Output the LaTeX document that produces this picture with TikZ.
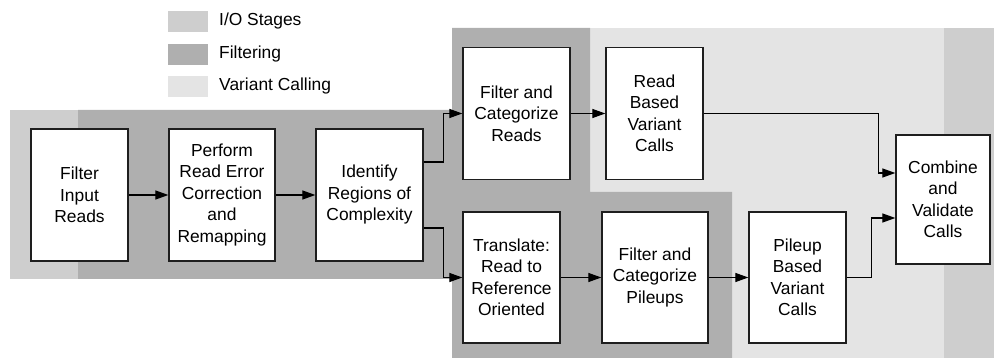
\documentclass[tikz,border=0pt]{standalone}
\usepackage{fontspec}
\setmainfont{Liberation Sans}
\usetikzlibrary{arrows.meta}
\definecolor{iogray}{RGB}{206,206,206}
\definecolor{filtgray}{RGB}{175,175,175}
\definecolor{vargray}{RGB}{228,228,228}
\definecolor{edge}{RGB}{30,30,30}
\begin{document}
\begin{tikzpicture}[x=1pt,y=-1pt,
  stage/.style={draw=edge,fill=white,line width=1.3pt,align=center,inner sep=0pt,
    minimum height=132pt,font=\fontsize{17.4}{21.5}\selectfont},
  flow/.style={line width=1.2pt,-{Triangle[length=13pt,width=9pt]}},
  legend/.style={anchor=west,inner sep=0pt,font=\fontsize{17.4}{21.5}\selectfont}]
  \useasboundingbox (0,0) rectangle (994,358);

  \fill[iogray] (10,110) rectangle (78,279);
  \fill[vargray] (590,28) rectangle (944,358);
  \fill[iogray] (944,28) rectangle (994,358);
  \fill[filtgray] (78,110) -- (452,110) -- (452,28) -- (590,28) -- (590,192)
    -- (732,192) -- (732,358) -- (452,358) -- (452,279) -- (78,279) -- cycle;

  \fill[iogray] (168,11) rectangle (208,32);
  \fill[filtgray] (168,44) rectangle (208,65);
  \fill[vargray] (168,76) rectangle (208,97);
  \node[legend] (lio) at (219,21.5) {I/O Stages};
  \node[legend] (lfilt) at (219,54.5) {Filtering};
  \node[legend] (lvar) at (219,86.5) {Variant Calling};

  \node[stage,minimum width=97pt] (fir) at (79.5,195) {Filter\\Input\\Reads};
  \node[stage,minimum width=106pt] (rec) at (222,195)
  {Perform\\Read Error\\Correction\\and\\Remapping};
  \node[stage,minimum width=107pt] (roc) at (369.5,195)
  {Identify\\Regions of\\Complexity};
  \node[stage,minimum width=107pt] (fcr) at (516.5,113.5)
  {Filter and\\Categorize\\Reads};
  \node[stage,minimum width=97pt] (rbv) at (654.5,113.5)
  {Read\\Based\\Variant\\Calls};
  \node[stage,minimum width=97pt,minimum height=131pt] (trr) at (511.5,277.5)
  {Translate:\\Read to\\Reference\\Oriented};
  \node[stage,minimum width=106pt,minimum height=131pt] (fcp) at (655,277.5)
  {Filter and\\Categorize\\Pileups};
  \node[stage,minimum width=97pt,minimum height=131pt] (pbv) at (797.5,277.5)
  {Pileup\\Based\\Variant\\Calls};
  \node[stage,minimum width=94pt,minimum height=129pt] (cvc) at (943,199.5)
  {Combine\\and\\Validate\\Calls};

  \coordinate (cin1) at ([yshift=26.5pt]cvc.west);
  \coordinate (cin2) at ([yshift=-18.5pt]cvc.west);

  \draw[flow] (fir) -- (rec);
  \draw[flow] (rec) -- (roc);
  \draw[flow] ([yshift=33pt]roc.east) -- ++(20,0) |- (fcr.west);
  \draw[flow] ([yshift=-33pt]roc.east) -- ++(20,0) |- (trr.west);
  \draw[flow] (fcr) -- (rbv);
  \draw[flow] (trr) -- (fcp);
  \draw[flow] (fcp) -- (pbv);
  \draw[flow] (rbv.east) -| ([xshift=-17pt]cin1) -- (cin1);
  \draw[flow] (pbv.east) -| ([xshift=-24pt]cin2) -- (cin2);
\end{tikzpicture}
\end{document}
